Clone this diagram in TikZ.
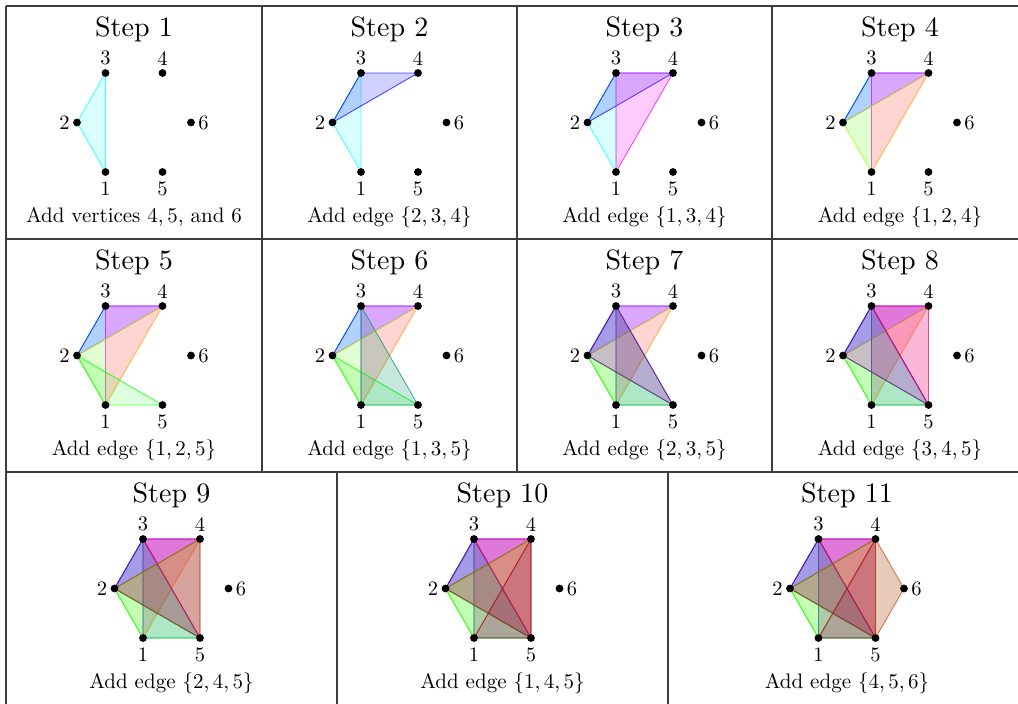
\documentclass[tikz,border=0pt]{standalone}
\usepackage{fontspec}
\setmainfont{lmroman10-regular}[Extension=.otf]
\usetikzlibrary{calc}
\definecolor{hcA}{RGB}{0,255,255}
\definecolor{hcB}{RGB}{0,0,255}
\definecolor{hcC}{RGB}{255,0,255}
\definecolor{hcD}{RGB}{255,255,0}
\definecolor{hcE}{RGB}{0,255,0}
\definecolor{hcF}{RGB}{0,150,110}
\definecolor{hcG}{RGB}{128,0,160}
\definecolor{hcH}{RGB}{240,0,120}
\definecolor{hcI}{RGB}{128,110,0}
\definecolor{hcJ}{RGB}{170,0,40}
\definecolor{hcK}{RGB}{180,80,30}
\definecolor{gridcol}{RGB}{60,60,60}
\tikzset{
  gridline/.style={draw=gridcol, line width=1.3pt},
  hedge/.style={fill=#1, draw=#1, draw opacity=0.7, line width=0.9pt, line join=round},
  vdot/.style={circle, fill=black, inner sep=0pt, minimum size=7.8pt},
  vlab/.style={inner sep=0pt, font=\fontsize{20.5}{24}\selectfont},
  titletext/.style={anchor=base, inner sep=0pt, font=\fontsize{28}{32}\selectfont},
  captext/.style={anchor=base, inner sep=0pt, font=\fontsize{21}{24}\selectfont}
}
\newcommand{\hexcell}[5]{%
  \coordinate (#1-1) at (#2-28.5,#3+166);
  \coordinate (#1-2) at (#2-57,#3+116.5);
  \coordinate (#1-3) at (#2-28.5,#3+67);
  \coordinate (#1-4) at (#2+28.5,#3+67);
  \coordinate (#1-5) at (#2+28.5,#3+166);
  \coordinate (#1-6) at (#2+57,#3+116.5);
  \node[titletext] (#1-title) at (#2,#3+30) {Step #4};
  \node[captext] (#1-cap) at (#2,#3+216) {#5};
  \foreach \va/\vb/\vc/\hc/\op [count=\i] in {1/2/3/hcA/0.15,2/3/4/hcB/0.18,1/3/4/hcC/0.2,1/2/4/hcD/0.18,1/2/5/hcE/0.13,1/3/5/hcF/0.22,2/3/5/hcG/0.25,3/4/5/hcH/0.28,2/4/5/hcI/0.27,1/4/5/hcJ/0.28,4/5/6/hcK/0.3}{%
    \ifnum\i>#4\relax\else
      \filldraw[hedge=\hc, fill opacity=\op] (#1-\va) -- (#1-\vb) -- (#1-\vc) -- cycle;
    \fi
  }
  \foreach \k/\pos/\ld in {1/below/5.5pt,2/left/3pt,3/above/3.5pt,4/above/3.5pt,5/below/5.5pt,6/right/3pt}{%
    \node[vdot, label={[vlab, label distance=\ld]\pos:\k}] (#1-n\k) at (#1-\k) {};
  }
}
\begin{document}
\begin{tikzpicture}[x=1pt,y=-1pt]
\useasboundingbox (0,0) rectangle (1018,704);
\clip (0,0) rectangle (1018,704);
\fill[white] (0,0) rectangle (1018,704);
% cells
\hexcell{s1}{134}{6}{1}{Add vertices 4,\,5, and 6}
\hexcell{s2}{389.5}{6}{2}{Add edge \{2,\,3,\,4\}}
\hexcell{s3}{644.5}{6}{3}{Add edge \{1,\,3,\,4\}}
\hexcell{s4}{900}{6}{4}{Add edge \{1,\,2,\,4\}}
\hexcell{s5}{134}{239}{5}{Add edge \{1,\,2,\,5\}}
\hexcell{s6}{389.5}{239}{6}{Add edge \{1,\,3,\,5\}}
\hexcell{s7}{644.5}{239}{7}{Add edge \{2,\,3,\,5\}}
\hexcell{s8}{900}{239}{8}{Add edge \{3,\,4,\,5\}}
\hexcell{s9}{171.5}{472}{9}{Add edge \{2,\,4,\,5\}}
\hexcell{s10}{502.5}{472}{10}{Add edge \{1,\,4,\,5\}}
\hexcell{s11}{847}{472}{11}{Add edge \{4,\,5,\,6\}}
% grid
\draw[gridline] (6,6) -- (1030,6);
\draw[gridline] (6,239) -- (1030,239);
\draw[gridline] (6,472) -- (1030,472);
\draw[gridline] (6,705) -- (1030,705);
\draw[gridline] (6,6) -- (6,705);
\draw[gridline] (262,6) -- (262,472);
\draw[gridline] (517,6) -- (517,472);
\draw[gridline] (772,6) -- (772,472);
\draw[gridline] (337,472) -- (337,705);
\draw[gridline] (668,472) -- (668,705);
\end{tikzpicture}
\end{document}
